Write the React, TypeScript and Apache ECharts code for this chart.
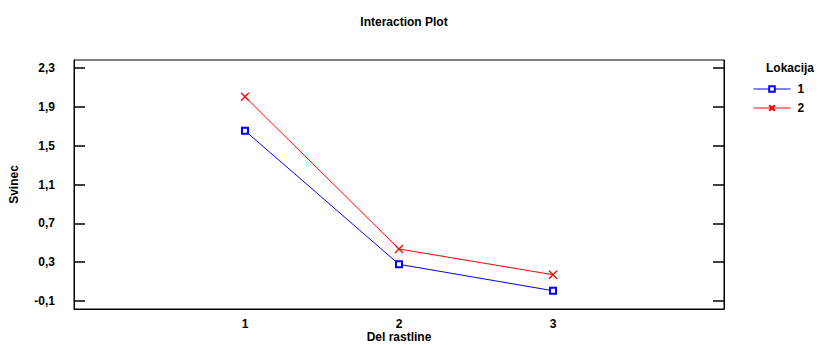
import React, { useEffect, useRef } from "react";
import * as echarts from "echarts";

const categories = [1, 2, 3];
const lokacija1 = [1.654, 0.278, 0.006];
const lokacija2 = [2.004, 0.436, 0.171];
const yTicks = [-0.1, 0.3, 0.7, 1.1, 1.5, 1.9, 2.3];
const seriesNames = ["1", "2"];

const FONT = "'Liberation Sans', Arial, sans-serif";
const fmt = (v: number) => v.toFixed(1).replace(".", ",");

export default function App() {
  const ref = useRef<HTMLDivElement>(null);
  useEffect(() => {
    if (!ref.current) return;
    const chart = echarts.init(ref.current, undefined, { renderer: "svg" });
    const yMin = -0.182;
    const yMax = 2.382;
    chart.setOption({
      animation: false,
      backgroundColor: "#fff",
      textStyle: { fontFamily: FONT },
      title: {
        text: "Interaction Plot",
        left: 399,
        top: 11,
        textAlign: "center",
        textStyle: { fontFamily: FONT, fontSize: 12, fontWeight: "bold", color: "#000" },
      },
      grid: {
        left: 74,
        right: 96,
        top: 60,
        bottom: 36,
        show: true,
        borderColor: "#000",
        borderWidth: 1,
        backgroundColor: "transparent",
        containLabel: false,
        outerBoundsMode: "none",
      },
      legend: {
        orient: "vertical",
        left: 748,
        top: 78,
        itemWidth: 37,
        itemHeight: 7,
        itemGap: 7,
        data: seriesNames,
        lineStyle: { width: 1 },
        textStyle: { fontFamily: FONT, fontSize: 12, fontWeight: "bold", color: "#000", padding: [0, 0, 0, 2] },
      },
      graphic: [
        {
          type: "text",
          left: 766,
          top: 62,
          style: { text: "Lokacija", font: `bold 12px ${FONT}`, fill: "#000" },
        },
        {
          type: "text",
          x: 399,
          y: 337,
          style: {
            text: "Del rastline",
            font: `bold 12px ${FONT}`,
            fill: "#000",
            align: "center",
            verticalAlign: "middle",
          },
        },
      ],
      xAxis: {
        type: "value",
        min: -0.11,
        max: 4.11,
        axisLine: { show: true, onZero: false, lineStyle: { color: "#000", width: 1 } },
        axisTick: { show: false },
        splitLine: { show: false },
        axisLabel: {
          customValues: categories,
          formatter: (v: number) => String(v),
          fontFamily: FONT,
          fontSize: 12,
          fontWeight: "bold",
          color: "#000",
          margin: 9,
        },
      },
      yAxis: [
        {
          type: "value",
          min: yMin,
          max: yMax,
          name: "Svinec",
          nameLocation: "middle",
          nameGap: 54,
          nameTextStyle: { fontFamily: FONT, fontSize: 12, fontWeight: "bold", color: "#000" },
          axisLine: { show: true, onZero: false, lineStyle: { color: "#000", width: 1 } },
          axisTick: { show: true, inside: true, length: 11, customValues: yTicks, lineStyle: { color: "#000", width: 1.5 } },
          splitLine: { show: false },
          axisLabel: {
            customValues: yTicks,
            formatter: (v: number) => fmt(v),
            fontFamily: FONT,
            fontSize: 12,
            fontWeight: "bold",
            color: "#000",
            margin: 19,
          },
        },
        {
          type: "value",
          position: "right",
          min: yMin,
          max: yMax,
          axisLine: { show: true, onZero: false, lineStyle: { color: "#000", width: 1 } },
          axisTick: { show: true, inside: true, length: 11, customValues: yTicks, lineStyle: { color: "#000", width: 1.5 } },
          splitLine: { show: false },
          axisLabel: { show: false },
        },
      ],
      series: [
        {
          name: seriesNames[0],
          type: "line",
          data: categories.map((c, i) => [c, lokacija1[i]]),
          color: "#0000ff",
          lineStyle: { color: "#0000ff", width: 1 },
          symbol: "emptyRect",
          symbolSize: 6,
          itemStyle: { color: "#0000ff", borderColor: "#0000ff", borderWidth: 1.3 },
        },
        {
          name: seriesNames[1],
          type: "line",
          data: categories.map((c, i) => [c, lokacija2[i]]),
          color: "#ff0000",
          lineStyle: { color: "#ff0000", width: 1 },
          symbol: "path://M0,0L10,10M10,0L0,10",
          symbolSize: 8,
          itemStyle: { color: "#ff0000", borderColor: "#ff0000", borderWidth: 1.3 },
        },
      ],
    });
    return () => chart.dispose();
  }, []);
  return <div ref={ref} style={{ width: 820, height: 345, position: "absolute", left: 0, top: 0 }} />;
}
